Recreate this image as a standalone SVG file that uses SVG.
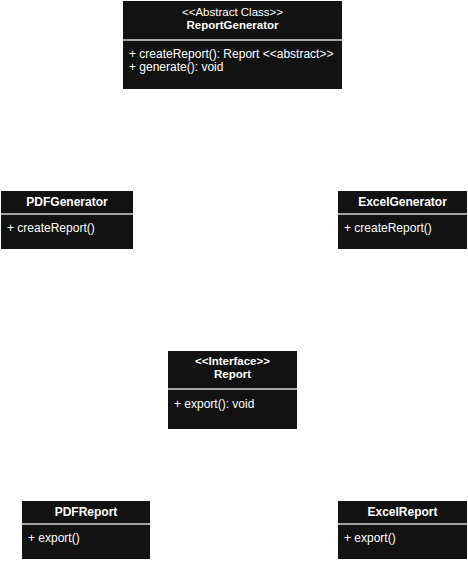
<svg xmlns="http://www.w3.org/2000/svg" width="468" height="561" viewBox="0 0 468 561">
<style>
.box{fill:#121212;stroke:none}
.sep{stroke:#d4d4d4;stroke-width:1.5}
.t{font-family:"Liberation Sans",Arial,sans-serif;font-size:12px;fill:#ffffff}
.h{font-size:11.5px}
.b{font-weight:bold;text-anchor:middle}
.c{text-anchor:middle}
</style>
<rect width="468" height="561" fill="#ffffff"/>
<g id="connectors"></g>
<g id="ReportGenerator">
<rect class="box" x="123" y="1" width="219" height="88"/>
<line class="sep" x1="123" y1="40" x2="342" y2="40"/>
<text class="t h c" x="232.5" y="15.5">&lt;&lt;Abstract Class&gt;&gt;</text>
<text class="t h b" x="232.5" y="29">ReportGenerator</text>
<text class="t" x="129" y="58">+ createReport(): Report &lt;&lt;abstract&gt;&gt;</text>
<text class="t" x="129" y="71">+ generate(): void</text>
</g>
<g id="PDFGenerator">
<rect class="box" x="1" y="191" width="132" height="58"/>
<line class="sep" x1="1" y1="214" x2="133" y2="214"/>
<text class="t b" x="67" y="206">PDFGenerator</text>
<text class="t" x="7" y="232">+ createReport()</text>
</g>
<g id="ExcelGenerator">
<rect class="box" x="338" y="191" width="129" height="58"/>
<line class="sep" x1="338" y1="214" x2="467" y2="214"/>
<text class="t b" x="402.5" y="206">ExcelGenerator</text>
<text class="t" x="344" y="232">+ createReport()</text>
</g>
<g id="Report">
<rect class="box" x="168" y="351" width="129" height="78"/>
<line class="sep" x1="168" y1="389" x2="297" y2="389"/>
<text class="t h b" x="232.5" y="364.5">&lt;&lt;Interface&gt;&gt;</text>
<text class="t h b" x="232.5" y="378">Report</text>
<text class="t" x="174" y="408">+ export(): void</text>
</g>
<g id="PDFReport">
<rect class="box" x="22" y="501" width="128" height="58"/>
<line class="sep" x1="22" y1="524" x2="150" y2="524"/>
<text class="t b" x="86" y="516">PDFReport</text>
<text class="t" x="28" y="542">+ export()</text>
</g>
<g id="ExcelReport">
<rect class="box" x="338" y="501" width="129" height="58"/>
<line class="sep" x1="338" y1="524" x2="467" y2="524"/>
<text class="t b" x="402.5" y="516">ExcelReport</text>
<text class="t" x="344" y="542">+ export()</text>
</g>
</svg>
